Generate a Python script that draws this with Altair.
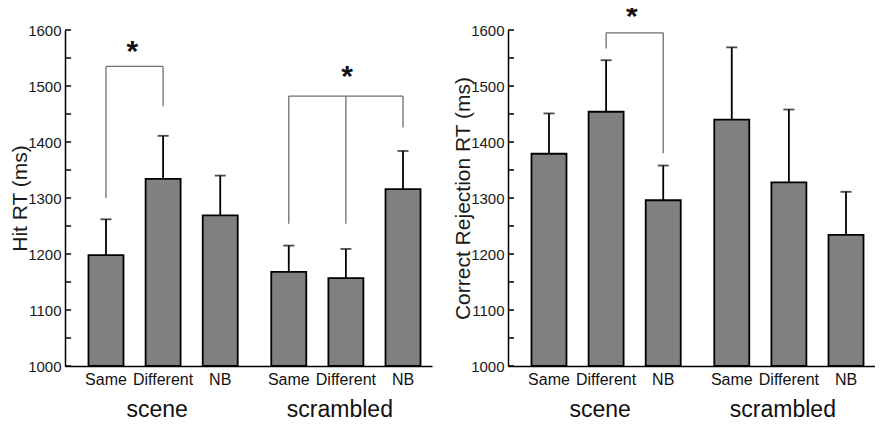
import altair as alt
import pandas as pd

FONT = "Liberation Sans"

# ---- data ----
conditions = ["Same", "Different", "NB", "Same", "Different", "NB"]
groups = ["scene", "scene", "scene", "scrambled", "scrambled", "scrambled"]
positions = [0, 1, 2, 3.2, 4.2, 5.2]

hit_mean = [1198, 1334, 1269, 1168, 1157, 1316]
hit_upper = [1262, 1411, 1340, 1215, 1209, 1384]

cr_mean = [1379, 1454, 1296, 1440, 1328, 1234]
cr_upper = [1451, 1546, 1358, 1569, 1458, 1311]

y_tick_values = [1000, 1050, 1100, 1150, 1200, 1250, 1300, 1350, 1400, 1450, 1500, 1550, 1600]
y_label_values = [1000, 1100, 1200, 1300, 1400, 1500, 1600]

group_names = ["scene", "scrambled"]
group_centers = [1.0, 4.2]

# significance brackets (x, x2, y, y2)
hit_br_x = [0, 0, 1, 3.2, 3.2, 4.2, 5.2]
hit_br_x2 = [1, 0, 1, 5.2, 3.2, 4.2, 5.2]
hit_br_y = [1535, 1300, 1464, 1482, 1254, 1254, 1426]
hit_br_y2 = [1535, 1535, 1535, 1482, 1482, 1482, 1482]
hit_star_x = [0.46, 4.22]
hit_star_y = [1545, 1500]

cr_br_x = [1, 1, 2]
cr_br_x2 = [2, 1, 2]
cr_br_y = [1595, 1567, 1380]
cr_br_y2 = [1595, 1595, 1595]
cr_star_x = [1.45]
cr_star_y = [1608]

W = 367
H = 336


def panel(mean, upper, bx, bx2, by, by2, sx, sy, title):
    xs = alt.Scale(domain=[-0.63, 5.62], nice=False, zero=False)
    ys = alt.Scale(domain=[1000, 1600], nice=False, zero=False)
    df = pd.DataFrame({"pos": positions, "cond": conditions, "group": groups,
                       "mean": mean, "upper": upper})
    base = alt.Chart(df)

    bars = base.mark_bar(width=35, fill="#808080", stroke="black", strokeWidth=1.8).encode(
        x=alt.X("pos:Q", scale=xs,
                axis=alt.Axis(title=None, labels=False, ticks=False, grid=False)),
        y=alt.Y("mean:Q", scale=ys,
                axis=alt.Axis(title=title, values=y_label_values, ticks=False, grid=False,
                              format="d")),
        y2=alt.Y2Datum(1000),
    )
    err = base.mark_rule(color="black", strokeWidth=1.8).encode(
        x=alt.X("pos:Q", scale=xs), y=alt.Y("mean:Q", scale=ys), y2="upper:Q")
    cap = base.mark_tick(orient="horizontal", size=11, thickness=1.8, color="black").encode(
        x=alt.X("pos:Q", scale=xs), y=alt.Y("upper:Q", scale=ys))

    ticks = alt.Chart(pd.DataFrame({"v": y_tick_values})).mark_rule(
        color="black", strokeWidth=1.5).encode(
        y=alt.Y("v:Q", scale=ys), x=alt.value(0), x2=alt.value(6))

    cond_labels = base.mark_text(font=FONT, fontSize=16, baseline="alphabetic", dy=19,
                                 color="#111111").encode(
        x=alt.X("pos:Q", scale=xs), y=alt.YDatum(1000, scale=ys), text="cond:N")

    grp = alt.Chart(pd.DataFrame({"g": group_names, "c": group_centers})).mark_text(
        font=FONT, fontSize=23, baseline="alphabetic", dy=51, dx=-6, color="#111111").encode(
        x=alt.X("c:Q", scale=xs), y=alt.YDatum(1000, scale=ys), text="g:N")

    br = alt.Chart(pd.DataFrame({"x": bx, "x2": bx2, "y": by, "y2": by2})).mark_rule(
        color="#6e6e6e", strokeWidth=1.3).encode(
        x=alt.X("x:Q", scale=xs), x2="x2:Q", y=alt.Y("y:Q", scale=ys), y2="y2:Q")

    stars = alt.Chart(pd.DataFrame({"x": sx, "y": sy, "t": ["*"] * len(sx)})).mark_text(
        font=FONT, fontSize=30, fontWeight="bold", baseline="alphabetic",
        color="#111111").encode(
        x=alt.X("x:Q", scale=xs), y=alt.Y("y:Q", scale=ys), text="t:N")

    return alt.layer(bars, br, err, cap, ticks, cond_labels, grp, stars).properties(
        width=W, height=H)


left = panel(hit_mean, hit_upper, hit_br_x, hit_br_x2, hit_br_y, hit_br_y2,
             hit_star_x, hit_star_y, "Hit RT (ms)")
right = panel(cr_mean, cr_upper, cr_br_x, cr_br_x2, cr_br_y, cr_br_y2,
              cr_star_x, cr_star_y, "Correct Rejection RT (ms)")

chart = alt.hconcat(left, right, spacing=20).properties(
    padding={"left": 1, "top": -7, "right": 0, "bottom": 0},
    background="white",
).configure_view(stroke=None).configure_axis(
    domainColor="black", domainWidth=1.5,
    labelFont=FONT, labelFontSize=15, labelColor="#1a1a1a", labelPadding=4,
    titleFont=FONT, titleFontSize=21, titleFontWeight="normal", titleColor="#1a1a1a",
    titlePadding=-3,
)

chart.save("out.html", embed_options={"renderer": "svg", "actions": False})
